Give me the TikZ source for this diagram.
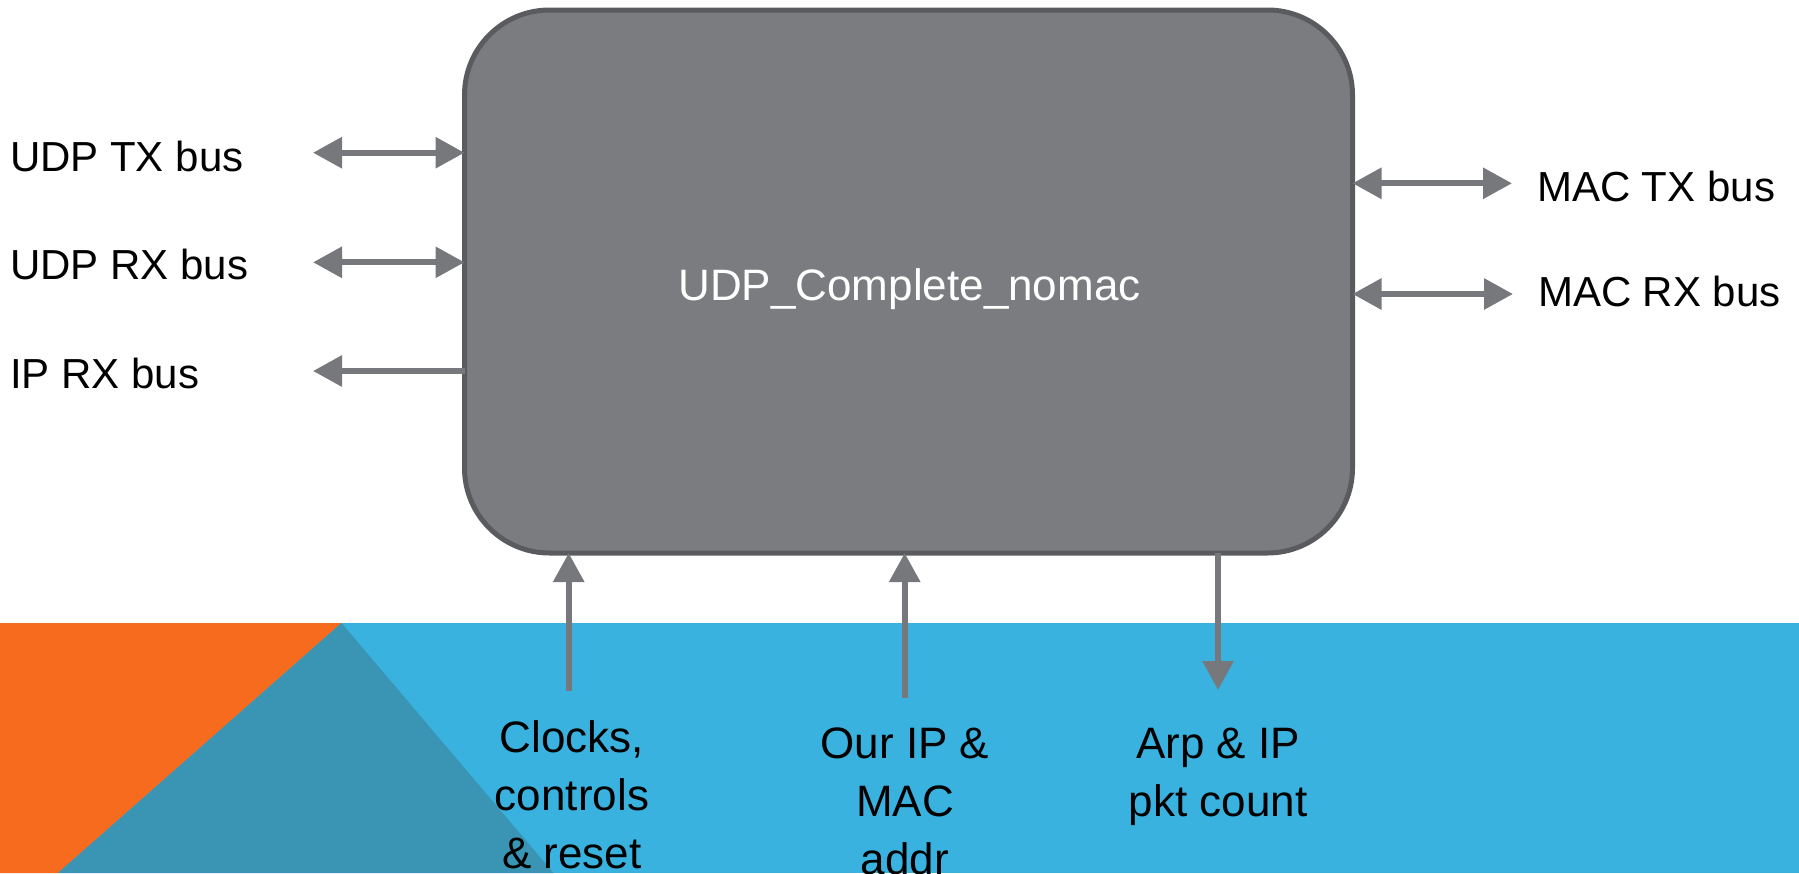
\documentclass[tikz,border=0pt]{standalone}
\usepackage{fontspec}
\setmainfont{Liberation Sans}
\usetikzlibrary{arrows.meta}
\definecolor{boxfill}{HTML}{7B7C80}
\definecolor{boxline}{HTML}{5A5B5E}
\definecolor{arrgray}{HTML}{77787C}
\definecolor{bandblue}{HTML}{3AB2DF}
\definecolor{bandorange}{HTML}{F76B1E}
\definecolor{bandteal}{HTML}{3995B3}
\tikzset{
  conn/.style={draw=arrgray, line width=6pt},
  tipR/.style={-{Triangle[length=29pt,width=30pt]}},
  tipB/.style={{Triangle[length=29pt,width=30pt]}-{Triangle[length=29pt,width=30pt]}},
  lbl/.style={inner sep=0pt, outer sep=0pt, font=\fontsize{42}{50}\selectfont, text=black},
  blbl/.style={inner sep=0pt, outer sep=0pt, align=center, anchor=north, font=\fontsize{44}{58}\selectfont, text=black},
}
\begin{document}
\begin{tikzpicture}[x=1pt, y=-1pt]
\useasboundingbox (0,0) rectangle (1799,873);
% background band
\fill[bandblue] (0,623) rectangle (1799,873);
\fill[bandorange] (0,623) -- (341.5,623) -- (58,873) -- (0,873) -- cycle;
\fill[bandteal] (341.5,623) -- (58,873) -- (553.6,873) -- cycle;
% main block
\node[draw=boxline, fill=boxfill, line width=5pt, rounded corners=85pt,
      minimum width=888pt, minimum height=543pt, inner sep=0pt, outer sep=0pt]
      (blk) at (908.5,281.5) {};
\node[inner sep=0pt, anchor=base, text=white, font=\fontsize{44}{52}\selectfont]
      (title) at (909.5,300) {UDP\_Complete\_nomac};
% left labels
\node[lbl, anchor=base west] (udptx) at (10,171.7) {UDP TX bus};
\node[lbl, anchor=base west] (udprx) at (10,279.3) {UDP RX bus};
\node[lbl, anchor=base west] (iprx) at (10,388.3) {IP RX bus};
% right labels
\node[lbl, anchor=base west] (mactx) at (1537,201.7) {MAC TX bus};
\node[lbl, anchor=base west] (macrx) at (1538,306.7) {MAC RX bus};
% bottom labels
\node[blbl] (clk) at (572,721) {Clocks,\\controls\\\& reset};
\node[blbl] (ourip) at (905,728) {Our IP \&\\MAC\\addr};
\node[blbl] (arp) at (1218,728) {Arp \& IP\\pkt count};
% connector end points
\coordinate (a1) at (313,152.7);
\coordinate (a2) at (313,262.3);
\coordinate (a3) at (313,371);
\coordinate (b1) at (1512,183.3);
\coordinate (b2) at (1513,294);
\coordinate (c1) at (568.7,690.7);
\coordinate (c2) at (904.7,698);
\coordinate (c3) at (1218,690);
% left connectors
\draw[conn, tipB] (a1) -- (a1 -| blk.west);
\draw[conn, tipB] (a2) -- (a2 -| blk.west);
\draw[conn, tipR] (a3 -| blk.west) -- (a3);
% right connectors
\draw[conn, tipB] (b1 -| blk.east) -- (b1);
\draw[conn, tipB] (b2 -| blk.east) -- (b2);
% bottom connectors
\draw[conn, tipR] (c1) -- (c1 |- blk.south);
\draw[conn, tipR] (c2) -- (c2 |- blk.south);
\draw[conn, tipR] (c3 |- blk.south) -- (c3);
\end{tikzpicture}
\end{document}
